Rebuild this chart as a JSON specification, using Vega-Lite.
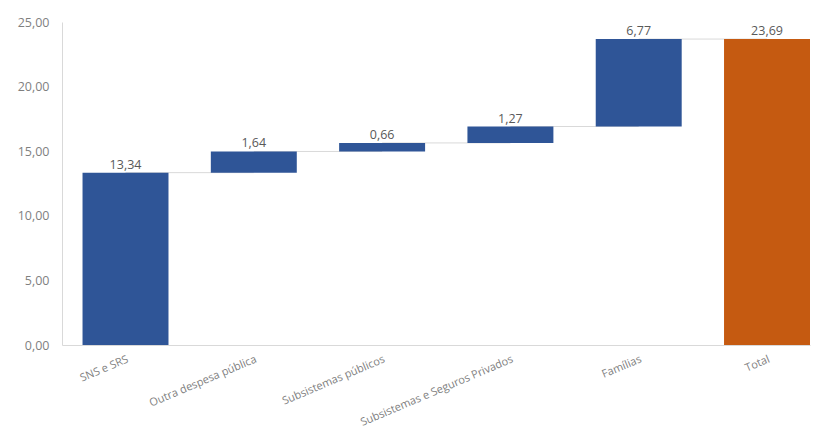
{
  "$schema": "https://vega.github.io/schema/vega-lite/v6.json",
  "width": 748,
  "height": 323,
  "autosize": {"type": "none"},
  "padding": {"left": 62, "top": 22, "right": 11, "bottom": 86},
  "background": "white",
  "config": {
    "locale": {"number": {"decimal": ",", "thousands": ".", "grouping": [3], "currency": ["", " €"]}},
    "view": {"stroke": null},
    "font": "Open Sans"
  },
  "data": {
    "values": [
      {"cat": "SNS e SRS", "start": 0, "end": 13.34, "amount": 13.34, "kind": "parcela", "next": "Outra despesa pública"},
      {"cat": "Outra despesa pública", "start": 13.34, "end": 14.98, "amount": 1.64, "kind": "parcela", "next": "Subsistemas públicos"},
      {"cat": "Subsistemas públicos", "start": 14.98, "end": 15.64, "amount": 0.66, "kind": "parcela", "next": "Subsistemas e Seguros Privados"},
      {"cat": "Subsistemas e Seguros Privados", "start": 15.64, "end": 16.91, "amount": 1.27, "kind": "parcela", "next": "Famílias"},
      {"cat": "Famílias", "start": 16.91, "end": 23.68, "amount": 6.77, "kind": "parcela", "next": "Total"},
      {"cat": "Total", "start": 0, "end": 23.69, "amount": 23.69, "kind": "total", "next": null}
    ]
  },
  "encoding": {
    "x": {
      "field": "cat", "type": "nominal", "sort": null, "title": null,
      "scale": {"paddingInner": 0.33, "paddingOuter": 0.08, "align": 1},
      "axis": {"labelAngle": -23, "labelAlign": "right", "labelBaseline": "top", "labelFontSize": 11, "labelColor": "#7f7f7f", "labelPadding": 8, "ticks": false, "domainColor": "#d9d9d9", "labelLimit": 300}
    }
  },
  "layer": [
    {
      "transform": [{"filter": "datum.next != null"}],
      "mark": {"type": "rule", "color": "#d9d9d9", "strokeWidth": 1},
      "encoding": {
        "x2": {"field": "next"},
        "y": {"field": "end", "type": "quantitative"}
      }
    },
    {
      "mark": {"type": "bar"},
      "encoding": {
        "y": {"field": "start", "type": "quantitative", "title": null,
          "scale": {"domain": [0, 25], "nice": false},
          "axis": {"values": [0, 5, 10, 15, 20, 25], "format": ".2f", "grid": false, "ticks": false, "labelFontSize": 12.5, "labelColor": "#7f7f7f", "labelPadding": 13, "domainColor": "#d9d9d9"}},
        "y2": {"field": "end"},
        "color": {"field": "kind", "type": "nominal", "legend": null,
          "scale": {"domain": ["parcela", "total"], "range": ["#2F5597", "#C55A11"]}}
      }
    },
    {
      "mark": {"type": "text", "dy": -1, "baseline": "bottom", "fontSize": 12.5, "color": "#595959"},
      "encoding": {
        "y": {"field": "end", "type": "quantitative"},
        "text": {"field": "amount", "type": "quantitative", "format": ".2f"}
      }
    }
  ]
}
